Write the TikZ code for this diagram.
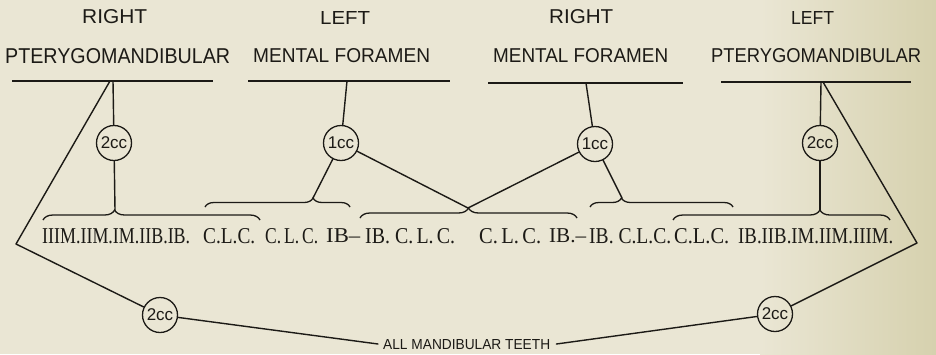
\documentclass[tikz,border=0pt]{standalone}
\usepackage{fontspec}
\setsansfont{Liberation Sans}
\setmainfont{Liberation Serif}
\usetikzlibrary{decorations.pathreplacing}
\definecolor{inkc}{HTML}{1C1A16}
\definecolor{paper}{HTML}{EAE6D4}
\definecolor{paperdark}{HTML}{D6D1AE}
\newcommand{\fitbox}[3]{\resizebox{#1pt}{#2pt}{\vphantom{ILCM}#3}}
\newcommand{\fith}[2]{\resizebox{!}{#1pt}{\vphantom{ILCM}#2}}
\tikzset{
  ink/.style={draw=inkc, line width=1.4pt, line cap=round, line join=round},
  bar/.style={draw=inkc, line width=2.8pt},
  cc/.style={circle, draw=inkc, line width=1.3pt, minimum size=35pt, inner sep=0pt,
             font=\sffamily\fontsize{17}{17}\selectfont, text=inkc},
  lbl/.style={inner sep=0pt, text=inkc, anchor=west},
  bracestyle/.style={draw=inkc, line width=1.3pt, decorate},
}
\begin{document}
\begin{tikzpicture}[x=1pt,y=-1pt]
\useasboundingbox (0,0) rectangle (936,354);
\fill[paper] (0,0) rectangle (936,354);
\shade[left color=paper, right color=paperdark] (760,0) rectangle (936,354);

% headings
\node[lbl] (h1a) at (82,17)  {\fitbox{65}{14}{\sffamily RIGHT}};
\node[lbl] (h1b) at (5,56)   {\fitbox{225}{15}{\sffamily PTERYGOMANDIBULAR}};
\node[lbl] (h2a) at (320,18) {\fitbox{50}{13}{\sffamily LEFT}};
\node[lbl] (h2b) at (253,56) {\fitbox{177}{14}{\sffamily MENTAL FORAMEN}};
\node[lbl] (h3a) at (549,17) {\fitbox{64}{14}{\sffamily RIGHT}};
\node[lbl] (h3b) at (493,56) {\fitbox{175}{14}{\sffamily MENTAL FORAMEN}};
\node[lbl] (h4a) at (791,18) {\fitbox{43}{13}{\sffamily LEFT}};
\node[lbl] (h4b) at (711,56) {\fitbox{210}{14}{\sffamily PTERYGOMANDIBULAR}};

% bars
\coordinate (b1l) at (12,81);  \coordinate (b1r) at (213,81);
\coordinate (b2l) at (248,81); \coordinate (b2r) at (450,81);
\coordinate (b3l) at (488,83); \coordinate (b3r) at (683,83);
\coordinate (b4l) at (721,82); \coordinate (b4r) at (911,82);
\draw[bar] (b1l) -- (b1r);
\draw[bar] (b2l) -- (b2r);
\draw[bar] (b3l) -- (b3r);
\draw[bar] (b4l) -- (b4r);

% circles
\node[cc] (cL1) at (114,143) {2cc};
\node[cc] (cL2) at (341,143) {1cc};
\node[cc] (cR2) at (595,144) {1cc};
\node[cc] (cR1) at (820,143) {2cc};
\node[cc] (LL)  at (160,315) {2cc};
\node[cc] (RL)  at (775,314) {2cc};

% teeth row
\node[lbl] (t1)  at (42,236)  {\fitbox{148}{15}{IIIM.IIM.IM.IIB.IB.}};
\node[lbl] (t2)  at (203,236) {\fitbox{52}{15}{C.L.C.}};
\node[lbl] (t3)  at (265,236) {\fitbox{53}{15}{C.\,L.\,C.}};
\node[lbl] (t4)  at (326,236) {\fitbox{34}{14}{IB\textendash}};
\node[lbl] (t5)  at (365,236) {\fitbox{90}{15}{IB. C.\,L.\,C.}};
\node[lbl] (t6)  at (479,236) {\fitbox{62}{15}{C.\,L.\,C.}};
\node[lbl] (t7)  at (549,236) {\fitbox{37}{14}{IB.\textendash}};
\node[lbl] (t8)  at (589,236) {\fitbox{82}{15}{IB. C.L.C.}};
\node[lbl] (t9)  at (674,236) {\fitbox{55}{15}{C.L.C.}};
\node[lbl] (t10) at (738,236) {\fitbox{155}{15}{IB.IIB.IM.IIM.IIIM.}};

% braces
\coordinate (b1tip) at (115,210);
\coordinate (b2tip) at (313,198);
\coordinate (b3tip) at (468,208);
\coordinate (b4tip) at (622,198);
\coordinate (b5tip) at (820,210);
\draw[bracestyle, decoration={brace, amplitude=10pt, aspect=0.33}] (43,220) -- (260,220);
\draw[bracestyle, decoration={brace, amplitude=9pt, aspect=0.745}] (205,207) -- (350,207);
\draw[bracestyle, decoration={brace, amplitude=10pt, aspect=0.5}] (360,218) -- (577,218);
\draw[bracestyle, decoration={brace, amplitude=9pt, aspect=0.22}] (590,207) -- (733,207);
\draw[bracestyle, decoration={brace, amplitude=10pt, aspect=0.677}] (673,220) -- (890,220);

% connectors left pterygomandibular
\coordinate (p1v) at (113,81);
\coordinate (p1d) at (110,81);
\coordinate (apexL) at (16,244);
\draw[ink] (p1v) -- (cL1);
\draw[ink] (cL1) -- (b1tip);
\draw[ink] (p1d) -- (apexL) -- (LL);

% connectors right pterygomandibular
\coordinate (p4v) at (821,82);
\coordinate (p4d) at (823,82);
\coordinate (apexR) at (917,243);
\draw[ink] (p4v) -- (cR1);
\draw[ink] (cR1) -- (b5tip);
\draw[ink] (p4d) -- (apexR) -- (RL);

% mental foramen connectors
\coordinate (m2) at (347,81);
\coordinate (m3) at (586,83);
\draw[ink] (m2) -- (cL2);
\draw[ink] (cL2) -- (b2tip);
\draw[ink] (cL2) -- (b3tip);
\draw[ink] (m3) -- (cR2);
\draw[ink] (cR2) -- (b4tip);
\draw[ink] (cR2) -- (b3tip);

% bottom label
\node[lbl] (all) at (383,345) {\fitbox{167}{10}{\sffamily ALL MANDIBULAR TEETH}};
\draw[ink] (LL) -- ([xshift=-5pt,yshift=1pt]all.west);
\draw[ink] ([xshift=6pt,yshift=1pt]all.east) -- (RL);
\end{tikzpicture}
\end{document}
